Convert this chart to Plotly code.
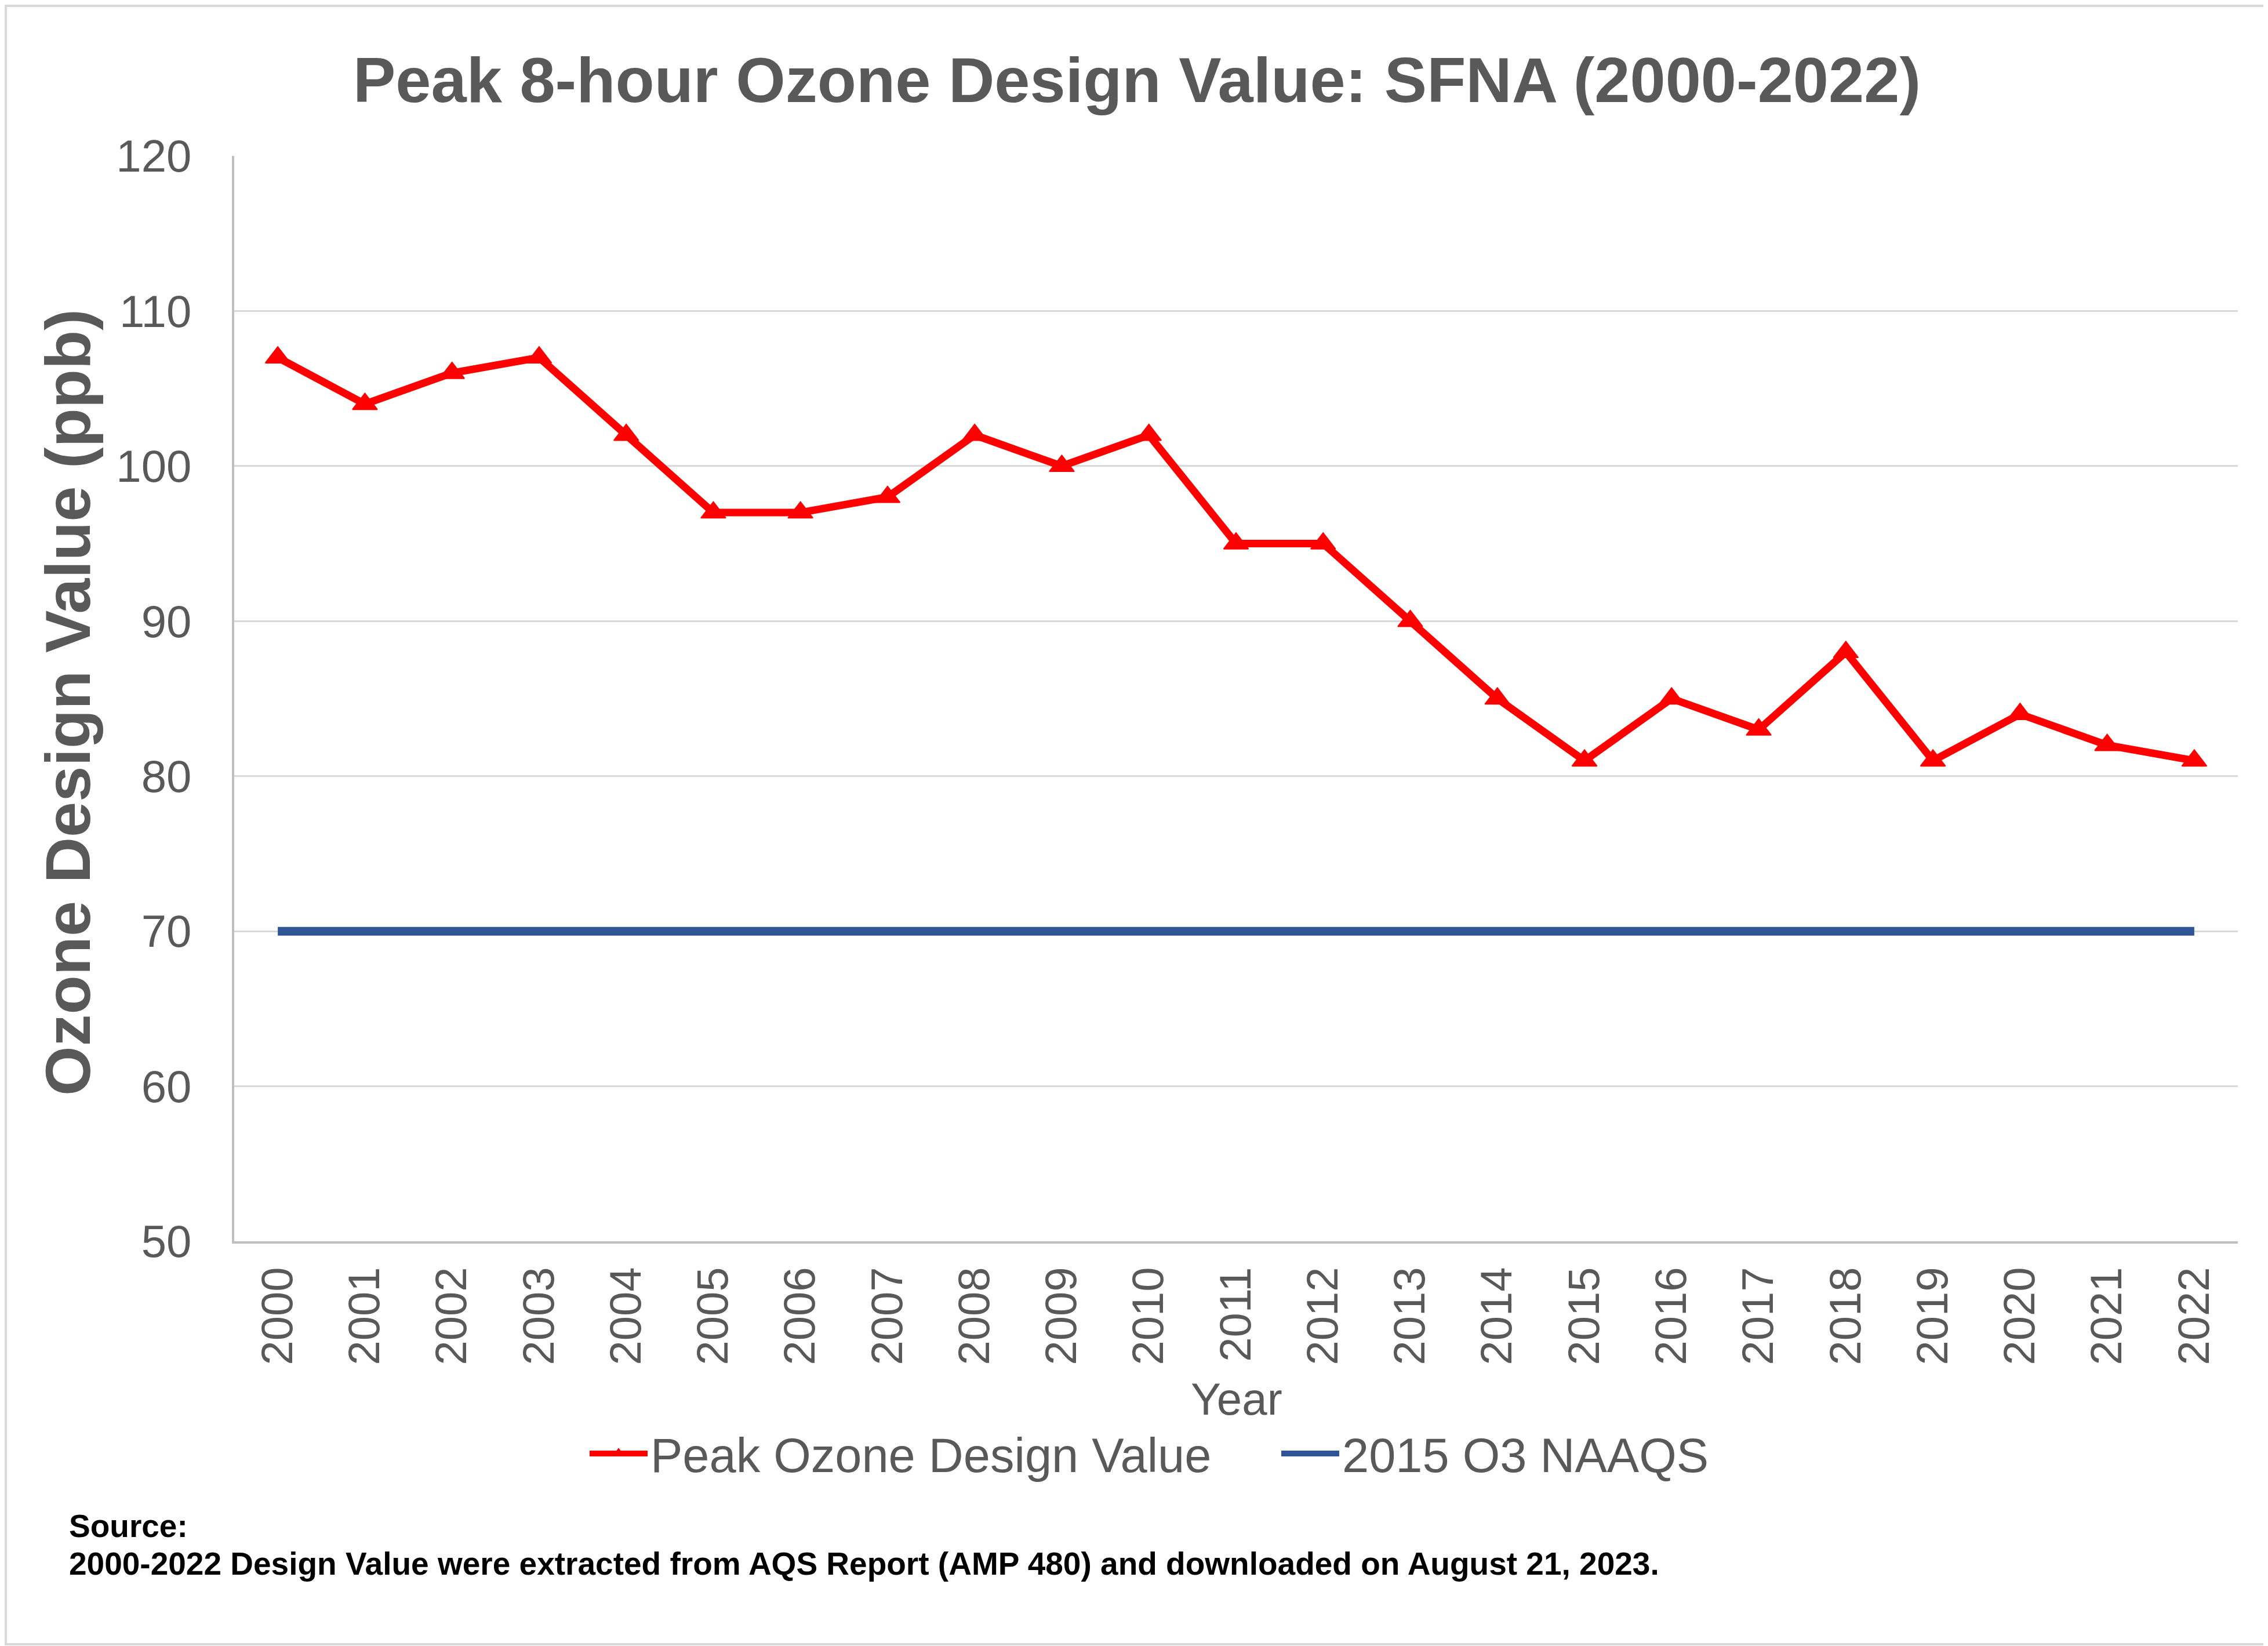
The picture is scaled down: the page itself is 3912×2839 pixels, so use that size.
import plotly.graph_objects as go

years = [str(y) for y in range(2000, 2023)]
peak_dv = [107, 104, 106, 107, 102, 97, 97, 98, 102, 100, 102, 95, 95, 90, 85, 81, 85, 83, 88, 81, 84, 82, 81]
naaqs_2015 = [70] * len(years)
y_ticks = [50, 60, 70, 80, 90, 100, 110, 120]

W, H = 3912, 2839
OFF = 8  # page body margin
L, R, T, B = 396, 60, 261, 706
PW, PH = W - L - R, H - T - B
FONT = "Arial, Liberation Sans, sans-serif"
GREY = "#595959"

def fx(xw):
    return (xw - OFF - L) / PW

def fy(yw):
    return (H - B - (yw - OFF)) / PH

fig = go.Figure()
fig.add_trace(go.Scatter(
    x=years, y=peak_dv, name="Peak Ozone Design Value", mode="lines+markers",
    line=dict(color="#FF0000", width=13),
    marker=dict(symbol="triangle-up", size=37, color="#FF0000",
                line=dict(color="#FF0000", width=2)),
))
fig.add_trace(go.Scatter(
    x=years, y=naaqs_2015, name="2015 O3 NAAQS", mode="lines",
    line=dict(color="#2F5597", width=15),
))

fig.update_layout(
    width=W, height=H, autosize=False,
    margin=dict(l=L, r=R, t=T, b=B),
    paper_bgcolor="white", plot_bgcolor="white",
    font=dict(family=FONT, color=GREY),
    title=dict(text="<b>Peak 8-hour Ozone Design Value: SFNA (2000-2022)</b>",
               x=(1961 - OFF) / W, xref="container", xanchor="center",
               y=1 - (137 - OFF) / H, yref="container", yanchor="middle",
               font=dict(size=110, color=GREY, family=FONT)),
    showlegend=True,
    legend=dict(orientation="h", x=fx(1012), xanchor="left",
                y=fy(2507), yanchor="middle",
                font=dict(size=83, color=GREY, family=FONT),
                itemwidth=100, entrywidth=1078, entrywidthmode="pixels",
                bgcolor="rgba(0,0,0,0)"),
)

fig.update_xaxes(
    type="category", tickangle=-90, tickfont=dict(size=76, color=GREY, family=FONT),
    showgrid=False, showline=True, linecolor="#BFBFBF", linewidth=4,
    ticks="", ticklabelstandoff=10, range=[-0.5, len(years) - 0.5],
)
fig.update_yaxes(
    range=[50, 120], tickvals=y_ticks, tickfont=dict(size=78, color=GREY, family=FONT),
    showgrid=True, gridcolor="#D9D9D9", gridwidth=3,
    showline=True, linecolor="#BFBFBF", linewidth=4, zeroline=False,
    ticks="", ticklabelstandoff=54,
)

fig.add_annotation(text="<b>Ozone Design Value (ppb)</b>", textangle=-90,
                   xref="paper", yref="paper", x=fx(116), y=fy(1212),
                   xanchor="center", yanchor="middle", showarrow=False,
                   font=dict(size=110, color=GREY, family=FONT))
fig.add_annotation(text="Year", xref="paper", yref="paper", x=fx(2133), y=fy(2413),
                   xanchor="center", yanchor="middle", showarrow=False,
                   font=dict(size=78, color=GREY, family=FONT))
fig.add_annotation(text="<b>Source:</b>", xref="paper", yref="paper",
                   x=fx(117), y=fy(2632), xanchor="left", yanchor="middle",
                   showarrow=False, font=dict(size=55, color="black", family=FONT))
fig.add_annotation(text="<b>2000-2022 Design Value were extracted from AQS Report (AMP 480) and downloaded on August 21, 2023.</b>",
                   xref="paper", yref="paper",
                   x=fx(117), y=fy(2697), xanchor="left", yanchor="middle",
                   showarrow=False, font=dict(size=55, color="black", family=FONT))

fig.add_shape(type="rect", xref="paper", yref="paper",
              x0=fx(OFF + 2), x1=fx(3909), y0=fy(2836), y1=fy(OFF + 2),
              line=dict(color="#D9D9D9", width=4), fillcolor="rgba(0,0,0,0)", layer="below")

fig.write_html("out.html")
